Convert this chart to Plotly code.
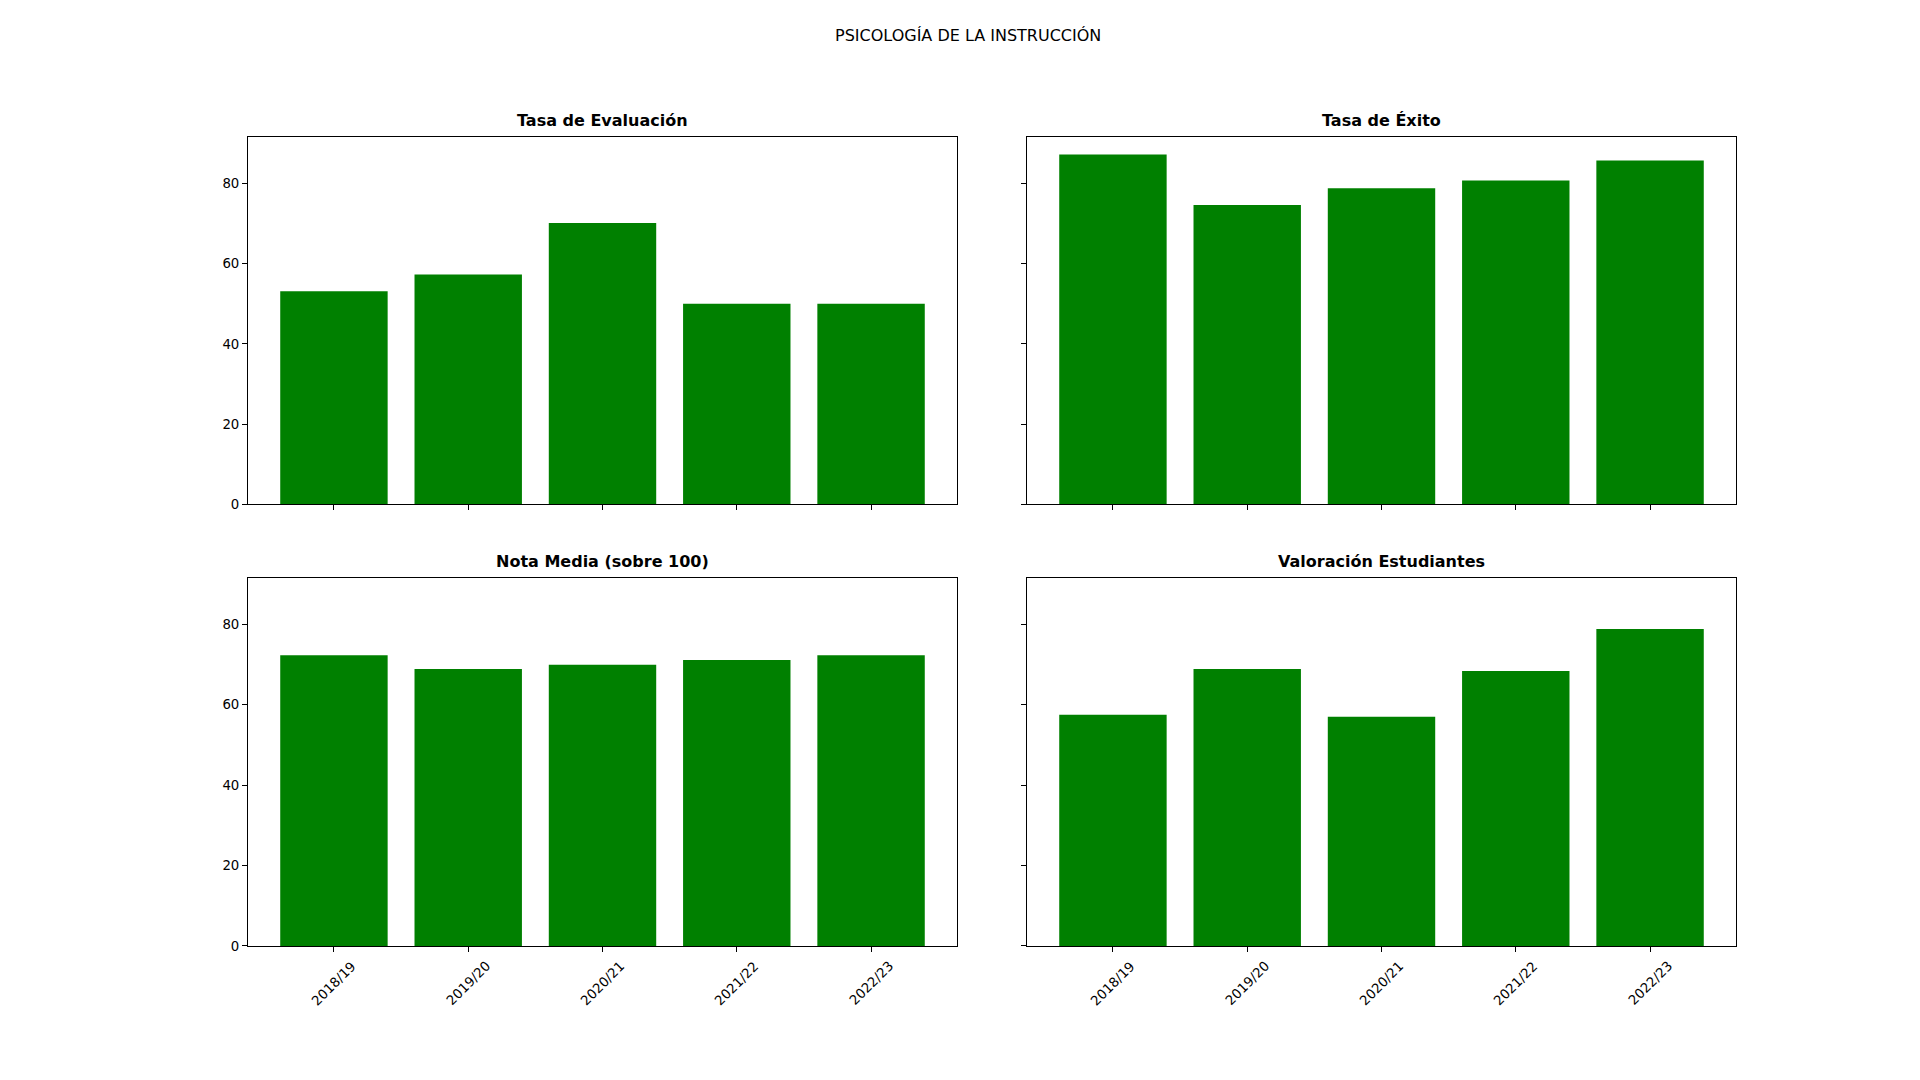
import plotly.graph_objects as go

years = ["2018/19", "2019/20", "2020/21", "2021/22", "2022/23"]
tasa_evaluacion = [53.1, 57.3, 70.1, 50.0, 50.0]
tasa_exito = [87.2, 74.6, 78.8, 80.7, 85.7]
nota_media = [72.3, 68.9, 69.9, 71.1, 72.3]
valoracion = [57.5, 68.9, 57.0, 68.4, 78.8]

titles = ["Tasa de Evaluación", "Tasa de Éxito", "Nota Media (sobre 100)", "Valoración Estudiantes"]
suptitle = "PSICOLOGÍA DE LA INSTRUCCIÓN"
yticks = [0, 20, 40, 60, 80]

W, H = 1920, 1080
FONT = "DejaVu Sans"
GREEN = "#008000"

# panel pixel boxes (left, right, top, bottom)
boxes = [(240, 949, 130, 500), (1019, 1728, 130, 500),
         (240, 949, 574, 945), (1019, 1728, 574, 945)]

series = [tasa_evaluacion, tasa_exito, nota_media, valoracion]
ymax = 1.05 * max(max(s) for s in series)

fig = go.Figure()
annotations = []
for i, (vals, box) in enumerate(zip(series, boxes)):
    n = i + 1
    xa = "x" if n == 1 else f"x{n}"
    ya = "y" if n == 1 else f"y{n}"
    fig.add_trace(go.Bar(x=years, y=vals, marker=dict(color=GREEN, line=dict(width=0)),
                         xaxis=xa, yaxis=ya, showlegend=False, hoverinfo="x+y"))
    l, r, t, b = box
    xkey = "xaxis" if n == 1 else f"xaxis{n}"
    ykey = "yaxis" if n == 1 else f"yaxis{n}"
    fig.layout[xkey] = dict(
        domain=[l / W, r / W], anchor=ya, type="category",
        range=[-0.64, 4.64], showgrid=False, zeroline=False,
        showline=True, linecolor="black", linewidth=1, mirror=True,
        ticks="outside", ticklen=5, tickwidth=1, tickcolor="black",
        showticklabels=False, fixedrange=True,
    )
    fig.layout[ykey] = dict(
        domain=[1 - b / H, 1 - t / H], anchor=xa,
        range=[0, ymax], showgrid=False, zeroline=False,
        showline=True, linecolor="black", linewidth=1, mirror=True,
        ticks="outside", ticklen=5, tickwidth=1, tickcolor="black",
        tickvals=yticks, ticktext=[str(v) for v in yticks],
        showticklabels=(n in (1, 3)),
        tickfont=dict(family=FONT, size=13.3, color="black"),
        fixedrange=True,
    )
    # subplot title
    annotations.append(dict(
        text=f"<b>{titles[i]}</b>", x=(l + r) / 2 / W, y=1 - t / H,
        xref="paper", yref="paper", xanchor="center", yanchor="bottom",
        yshift=5, showarrow=False,
        font=dict(family=FONT, size=16, color="black"),
    ))
    # rotated tick labels on bottom row
    if n in (3, 4):
        for yr in years:
            annotations.append(dict(
                text=yr, x=yr, xref=xa, y=1 - b / H, yref="paper",
                xanchor="center", yanchor="top", yshift=-10,
                textangle=-45, showarrow=False,
                font=dict(family=FONT, size=13.3, color="black"),
            ))

annotations.append(dict(
    text=suptitle, x=0.5, y=1 - 28 / H, xref="paper", yref="paper",
    xanchor="center", yanchor="middle", showarrow=False,
    font=dict(family=FONT, size=16, color="black"),
))

fig.update_layout(
    width=W, height=H, margin=dict(l=0, r=0, t=0, b=0),
    paper_bgcolor="white", plot_bgcolor="white",
    bargap=0.2, annotations=annotations,
    font=dict(family=FONT, color="black"),
)

fig.write_html("out.html")
